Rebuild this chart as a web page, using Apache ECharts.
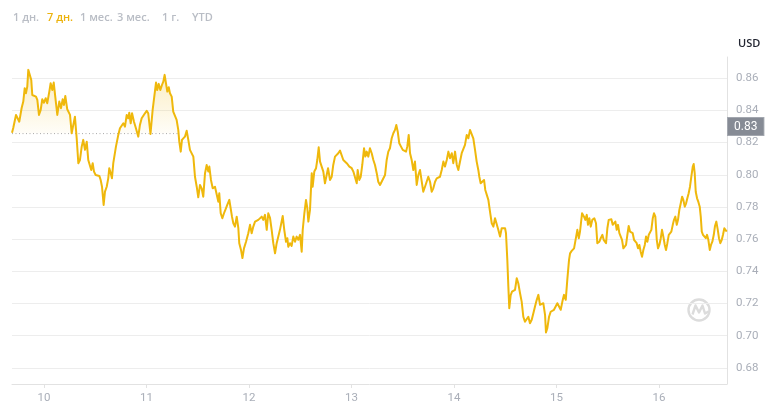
<!DOCTYPE html>
<html>
<head>
<meta charset="utf-8">
<script src="https://cdn.jsdelivr.net/npm/echarts@6/dist/echarts.min.js"></script>
<style>
html,body{margin:0;padding:0;background:#fff;}
#chart{width:775px;height:417px;}
</style>
</head>
<body>
<div id="chart"></div>
<script>
// ---- data (day of month, price in USD) ----
const times = [
9.688,9.700,9.727,9.739,9.759,9.782,9.798,9.812,9.824,9.837,
9.847,9.863,9.876,9.886,9.902,9.922,9.935,9.951,9.968,9.983,
10.000,10.017,10.032,10.052,10.065,10.081,10.095,10.110,10.130,10.149,
10.166,10.182,10.195,10.208,10.227,10.241,10.254,10.270,10.286,10.302,
10.319,10.335,10.351,10.368,10.383,10.400,10.417,10.432,10.449,10.461,
10.475,10.488,10.504,10.520,10.540,10.553,10.566,10.582,10.595,10.612,
10.627,10.637,10.651,10.663,10.676,10.702,10.725,10.741,10.758,10.774,
10.790,10.807,10.822,10.832,10.846,10.859,10.878,10.897,10.920,10.936,
10.953,10.969,10.985,11.002,11.017,11.039,11.060,11.076,11.093,11.105,
11.119,11.135,11.151,11.164,11.177,11.190,11.203,11.217,11.229,11.246,
11.261,11.278,11.294,11.310,11.320,11.334,11.346,11.359,11.375,11.392,
11.408,11.424,11.441,11.457,11.473,11.490,11.505,11.522,11.538,11.554,
11.571,11.587,11.603,11.613,11.629,11.646,11.668,11.685,11.701,11.710,
11.724,11.740,11.756,11.775,11.788,11.808,11.821,11.834,11.847,11.863,
11.880,11.896,11.905,11.922,11.936,11.951,11.971,11.993,12.010,12.026,
12.042,12.059,12.075,12.091,12.107,12.124,12.139,12.156,12.173,12.188,
12.205,12.221,12.237,12.254,12.270,12.286,12.302,12.329,12.344,12.361,
12.374,12.383,12.400,12.416,12.432,12.449,12.465,12.481,12.498,12.514,
12.524,12.540,12.556,12.569,12.579,12.595,12.612,12.621,12.637,12.654,
12.666,12.680,12.693,12.709,12.725,12.741,12.758,12.771,12.790,12.807,
12.822,12.839,12.855,12.871,12.888,12.904,12.920,12.937,12.953,12.979,
13.002,13.018,13.034,13.051,13.060,13.076,13.090,13.105,13.122,13.135,
13.148,13.164,13.180,13.197,13.213,13.229,13.246,13.261,13.278,13.294,
13.310,13.327,13.343,13.359,13.375,13.392,13.408,13.424,13.437,13.451,
13.466,13.483,13.500,13.515,13.532,13.544,13.558,13.571,13.587,13.603,
13.619,13.636,13.652,13.668,13.685,13.700,13.717,13.734,13.749,13.766,
13.782,13.798,13.815,13.831,13.847,13.863,13.880,13.896,13.912,13.929,
13.945,13.961,13.978,13.993,14.010,14.027,14.042,14.059,14.075,14.091,
14.107,14.124,14.140,14.156,14.173,14.188,14.205,14.221,14.237,14.247,
14.260,14.276,14.293,14.305,14.319,14.335,14.351,14.368,14.384,14.400,
14.416,14.432,14.449,14.465,14.481,14.498,14.507,14.520,14.530,14.539,
14.553,14.566,14.578,14.595,14.612,14.627,14.644,14.660,14.676,14.692,
14.709,14.725,14.741,14.758,14.774,14.790,14.807,14.823,14.839,14.856,
14.871,14.888,14.897,14.910,14.927,14.943,14.959,14.975,14.992,15.008,
15.024,15.041,15.057,15.073,15.090,15.105,15.122,15.132,15.148,15.171,
15.190,15.203,15.217,15.229,15.249,15.268,15.281,15.295,15.307,15.320,
15.334,15.349,15.369,15.385,15.398,15.418,15.431,15.447,15.460,15.473,
15.483,15.496,15.509,15.522,15.535,15.548,15.561,15.574,15.587,15.600,
15.613,15.627,15.639,15.652,15.665,15.678,15.691,15.704,15.717,15.730,
15.743,15.756,15.769,15.782,15.795,15.808,15.821,15.834,15.847,15.861,
15.873,15.886,15.900,15.912,15.925,15.939,15.951,15.964,15.978,15.990,
16.003,16.017,16.029,16.042,16.056,16.068,16.081,16.095,16.107,16.120,
16.134,16.146,16.159,16.173,16.185,16.198,16.212,16.225,16.237,16.251,
16.264,16.276,16.289,16.302,16.315,16.329,16.338,16.348,16.358,16.371,
16.383,16.397,16.407,16.417,16.429,16.442,16.456,16.468,16.481,16.495,
16.507,16.520,16.534,16.546,16.559,16.573,16.585,16.598,16.612,16.624,
16.637,16.651,16.660
];
const prices = [
0.8262,0.8291,0.8372,0.8378,0.8330,0.8415,0.8455,0.8538,0.8507,0.8548,
0.8652,0.8656,0.8589,0.8496,0.8507,0.8486,0.8465,0.8372,0.8403,0.8469,
0.8448,0.8476,0.8445,0.8517,0.8569,0.8527,0.8573,0.8486,0.8372,0.8455,
0.8414,0.8469,0.8434,0.8490,0.8407,0.8414,0.8372,0.8258,0.8310,0.8361,
0.8227,0.8072,0.8092,0.8175,0.8217,0.8155,0.8206,0.8092,0.8082,0.8030,
0.8072,0.8020,0.7999,0.7988,0.7993,0.7968,0.7926,0.7813,0.7895,0.7926,
0.7978,0.8041,0.8010,0.7978,0.8072,0.8175,0.8248,0.8289,0.8279,0.8320,
0.8299,0.8372,0.8351,0.8386,0.8320,0.8382,0.8330,0.8289,0.8237,0.8310,
0.8351,0.8359,0.8382,0.8397,0.8382,0.8254,0.8403,0.8486,0.8573,0.8527,
0.8565,0.8527,0.8558,0.8579,0.8621,0.8569,0.8517,0.8544,0.8507,0.8486,
0.8392,0.8382,0.8341,0.8279,0.8206,0.8144,0.8217,0.8206,0.8237,0.8274,
0.8217,0.8155,0.8165,0.8113,0.7988,0.7926,0.7860,0.7937,0.7916,0.7864,
0.8010,0.8061,0.8020,0.8051,0.7968,0.7916,0.7926,0.7916,0.7833,0.7885,
0.7761,0.7730,0.7761,0.7792,0.7813,0.7844,0.7792,0.7740,0.7699,0.7678,
0.7740,0.7668,0.7575,0.7533,0.7483,0.7543,0.7584,0.7637,0.7689,0.7637,
0.7678,0.7709,0.7699,0.7720,0.7720,0.7740,0.7720,0.7751,0.7658,0.7761,
0.7732,0.7658,0.7575,0.7512,0.7575,0.7584,0.7658,0.7744,0.7658,0.7584,
0.7606,0.7553,0.7575,0.7558,0.7616,0.7584,0.7616,0.7596,0.7627,0.7522,
0.7658,0.7761,0.7844,0.7792,0.7709,0.7782,0.8010,0.7926,0.8020,0.8041,
0.8092,0.8171,0.8082,0.8092,0.8020,0.7947,0.7957,0.8041,0.7968,0.7988,
0.8061,0.8113,0.8103,0.8134,0.8150,0.8144,0.8092,0.8103,0.8072,0.8051,
0.8041,0.8020,0.8030,0.7947,0.8030,0.7968,0.7988,0.8061,0.8165,0.8113,
0.8144,0.8113,0.8165,0.8134,0.8092,0.8061,0.8010,0.7957,0.7937,0.7957,
0.7968,0.7999,0.8092,0.8144,0.8165,0.8227,0.8258,0.8279,0.8310,0.8268,
0.8196,0.8175,0.8155,0.8165,0.8144,0.8175,0.8248,0.8134,0.8092,0.8030,
0.8082,0.7937,0.7999,0.8030,0.8018,0.7895,0.7926,0.7921,0.7988,0.7957,
0.7895,0.7916,0.7957,0.7978,0.7968,0.7988,0.8030,0.8082,0.8051,0.8092,
0.8144,0.8103,0.8134,0.8072,0.8144,0.8061,0.8030,0.8020,0.8134,0.8144,
0.8186,0.8248,0.8227,0.8279,0.8274,0.8227,0.8155,0.8082,0.8030,0.7988,
0.7947,0.7957,0.7968,0.7906,0.7916,0.7844,0.7771,0.7699,0.7678,0.7730,
0.7720,0.7658,0.7616,0.7668,0.7674,0.7668,0.7637,0.7471,0.7305,0.7171,
0.7253,0.7274,0.7274,0.7285,0.7357,0.7326,0.7264,0.7212,0.7118,0.7087,
0.7077,0.7118,0.7077,0.7099,0.7139,0.7181,0.7223,0.7254,0.7192,0.7202,
0.7202,0.7130,0.7020,0.7046,0.7118,0.7149,0.7139,0.7161,0.7171,0.7202,
0.7212,0.7161,0.7212,0.7254,0.7223,0.7347,0.7471,0.7512,0.7527,0.7543,
0.7548,0.7658,0.7606,0.7647,0.7761,0.7740,0.7720,0.7751,0.7689,0.7730,
0.7678,0.7720,0.7730,0.7699,0.7575,0.7584,0.7606,0.7627,0.7596,0.7606,
0.7575,0.7668,0.7720,0.7709,0.7724,0.7689,0.7699,0.7709,0.7658,0.7689,
0.7637,0.7627,0.7596,0.7543,0.7533,0.7564,0.7627,0.7682,0.7647,0.7658,
0.7637,0.7596,0.7606,0.7575,0.7543,0.7564,0.7522,0.7491,0.7533,0.7564,
0.7616,0.7584,0.7627,0.7637,0.7658,0.7730,0.7761,0.7740,0.7596,0.7543,
0.7564,0.7606,0.7658,0.7616,0.7564,0.7533,0.7575,0.7627,0.7627,0.7647,
0.7689,0.7720,0.7740,0.7689,0.7720,0.7782,0.7823,0.7864,0.7844,0.7802,
0.7823,0.7854,0.7885,0.7926,0.7988,0.8051,0.8067,0.8010,0.7895,0.7854,
0.7833,0.7802,0.7740,0.7647,0.7627,0.7637,0.7606,0.7627,0.7596,0.7533,
0.7564,0.7584,0.7627,0.7682,0.7709,0.7658,0.7606,0.7575,0.7596,0.7627,
0.7668,0.7674,0.7647
];
const baseline = 0.8256;          // opening price (dotted reference)
const baselineEnd = 11.315;       // where the dotted reference stops
const baselineLabel = '0.83';
const dayTicks = [10, 11, 12, 13, 14, 15, 16];
const priceTicks = [0.68, 0.70, 0.72, 0.74, 0.76, 0.78, 0.80, 0.82, 0.84, 0.86];
const tabs = ['1 дн.', '7 дн.', '1 мес.', '3 мес.', '1 г.', 'YTD'];
const activeTab = '7 дн.';
const currency = 'USD';

// ---- derived series ----
const lineData = times.map((t, i) => [t, prices[i]]);
function aboveBase(ts, ps, base, tEnd) {
  const out = [];
  for (let i = 0; i < ts.length && ts[i] <= tEnd + 0.02; i++) {
    if (i > 0) {
      const a = ps[i - 1] - base, b = ps[i] - base;
      if ((a > 0 && b < 0) || (a < 0 && b > 0)) {
        const f = a / (a - b);
        out.push([ts[i - 1] + f * (ts[i] - ts[i - 1]), base]);
      }
    }
    if (ts[i] <= tEnd) out.push([ts[i], Math.max(ps[i], base)]);
  }
  return out;
}
const fillData = aboveBase(times, prices, baseline, baselineEnd);

const chart = echarts.init(document.getElementById('chart'), null, {renderer: 'canvas'});
const tabX = [13, 47, 80, 117, 162, 192];
const labelColor = '#a9aeb8';

const graphics = tabs.map((t, i) => ({
  type: 'text', left: tabX[i], top: 12,
  style: {
    text: t,
    fill: t === activeTab ? '#ecb30c' : '#b9bdc5',
    font: '600 11px "Open Sans", "Noto Sans", sans-serif'
  }
}));
graphics.push({
  type: 'text', left: 738, top: 38,
  style: { text: currency, fill: '#222531', font: '600 11px "Open Sans", "Noto Sans", sans-serif' }
});
// watermark logo
graphics.push({
  type: 'group', left: 686, top: 297,
  children: [
    { type: 'circle', shape: { cx: 11.5, cy: 11.5, r: 10.5 },
      style: { fill: 'none', stroke: '#dcdcdc', lineWidth: 2.4 } },
    { type: 'polyline', shape: { points: [[5, 16], [8, 7], [11.5, 14], [15, 7], [17.5, 15], [21, 13]] },
      style: { fill: 'none', stroke: '#dcdcdc', lineWidth: 2.4, lineJoin: 'round' } }
  ]
});

chart.setOption({
  animation: false,
  backgroundColor: '#ffffff',
  grid: { left: 12, right: 48, top: 57, bottom: 33, containLabel: false },
  xAxis: {
    type: 'value',
    min: 9.688, max: 16.663,
    axisLine: { show: true, lineStyle: { color: '#e2e2e2', width: 1 } },
    axisTick: { show: true, customValues: dayTicks, length: 4, lineStyle: { color: '#e2e2e2' } },
    axisLabel: {
      customValues: dayTicks, margin: 8, color: labelColor,
      fontSize: 11.5, fontFamily: 'Roboto, "Liberation Sans", sans-serif',
      formatter: v => String(Math.round(v))
    },
    splitLine: { show: false }
  },
  yAxis: {
    type: 'value',
    position: 'right',
    min: 0.67, max: 0.8732,
    axisLine: { show: true, lineStyle: { color: '#e2e2e2', width: 1 } },
    axisTick: { show: false, customValues: priceTicks },
    axisLabel: {
      customValues: priceTicks, margin: 9, color: labelColor,
      fontSize: 11.5, fontFamily: 'Roboto, "Liberation Sans", sans-serif',
      formatter: v => v.toFixed(2)
    },
    splitLine: { show: true, lineStyle: { color: '#ededed', width: 1 } }
  },
  graphic: graphics,
  series: [
    {
      name: 'fill', type: 'line', data: fillData, showSymbol: false, silent: true,
      lineStyle: { width: 0, opacity: 0 },
      areaStyle: {
        origin: baseline,
        color: new echarts.graphic.LinearGradient(0, 0, 0, 1, [
          { offset: 0, color: 'rgba(240,185,11,0.38)' },
          { offset: 1, color: 'rgba(240,185,11,0.04)' }
        ])
      },
      z: 1
    },
    {
      name: 'baseline', type: 'line', clip: false,
      data: [[times[0], baseline], [baselineEnd, baseline]],
      showSymbol: false, silent: true,
      lineStyle: { color: '#a9a9a9', width: 1, type: [1, 2.5] },
      markLine: {
        silent: true, symbol: 'none',
        lineStyle: { color: 'rgba(0,0,0,0)', width: 1 },
        label: {
          show: true, position: 'end', distance: 1,
          formatter: baselineLabel,
          color: '#ffffff', backgroundColor: '#868b95',
          borderColor: '#a3a7af', borderWidth: 1,
          padding: [3, 6, 2, 6],
          fontSize: 12, fontFamily: 'Roboto, "Liberation Sans", sans-serif'
        },
        data: [{ yAxis: baseline }]
      },
      z: 2
    },
    {
      name: 'price', type: 'line', data: lineData, showSymbol: false, silent: true,
      lineStyle: { color: '#efb80c', width: 2, join: 'round' },
      z: 3
    }
  ]
});
</script>
</body>
</html>
